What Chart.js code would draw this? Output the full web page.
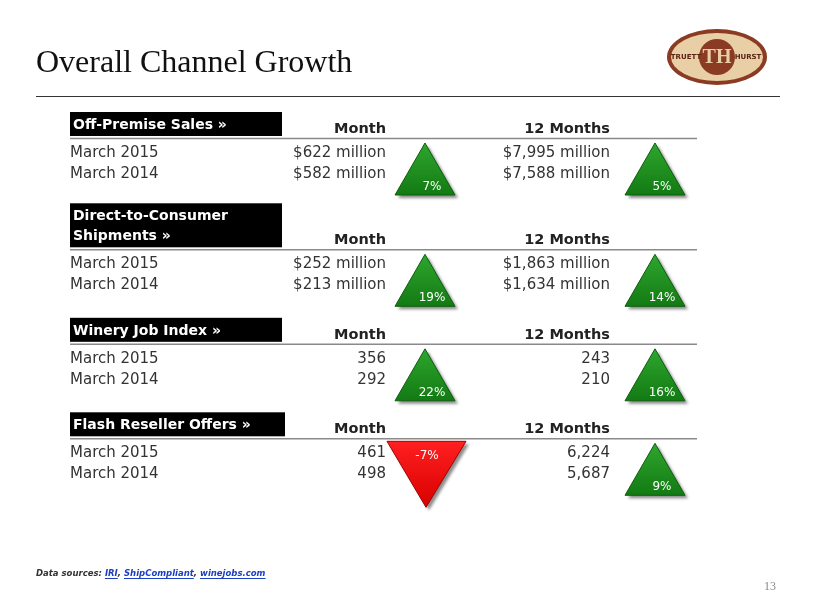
<!DOCTYPE html>
<html><head><meta charset="utf-8">
<script src="https://cdn.jsdelivr.net/npm/chart.js@4/dist/chart.umd.min.js"></script>
<style>html,body{margin:0;padding:0;background:#fff}canvas{display:block}</style>
</head><body>
<canvas id="c" width="820" height="615"></canvas>
<script>
const sections = ['Off-Premise Sales »', 'Direct-to-Consumer\nShipments »', 'Winery Job Index »', 'Flash Reseller Offers »'];
const headerLines = [1, 2, 1, 1];
const columns = ['Month', '12 Months'];
const periods = ['March 2015', 'March 2014'];
const isMoney = [true, true, false, false];
const monthCurrent = [622, 252, 356, 461];
const monthPrior = [582, 213, 292, 498];
const yearCurrent = [7995, 1863, 243, 6224];
const yearPrior = [7588, 1634, 210, 5687];
const monthChange = [7, 19, 22, -7];
const yearChange = [5, 14, 16, 9];

const sectionY = [];
let acc = 0;
sections.forEach((s, i) => { acc += (headerLines[i] - 1) * 0.8; sectionY.push(i * 4.5 + acc); });

function fmt(v, money) {
  const s = v.toLocaleString('en-US');
  return money ? '$' + s + ' million' : s;
}

const pts = [];
sections.forEach((s, i) => {
  pts.push({x: 0, y: sectionY[i], v: monthChange[i], s: i});
  pts.push({x: 1, y: sectionY[i], v: yearChange[i], s: i});
});

const F = 'DejaVu Sans, Verdana, sans-serif';

const slide = {
  id: 'slide',
  afterDatasetsDraw(chart) {
    const ctx = chart.ctx;
    const meta = chart.getDatasetMeta(0);
    ctx.save();
    ctx.fillStyle = '#111';
    ctx.font = '32px "Liberation Serif", serif';
    ctx.textBaseline = 'alphabetic';
    ctx.textAlign = 'left';
    ctx.fillText('Overall Channel Growth', 36, 72);
    ctx.strokeStyle = '#333'; ctx.lineWidth = 1;
    ctx.beginPath(); ctx.moveTo(36, 96.5); ctx.lineTo(780, 96.5); ctx.stroke();
    ctx.save();
    ctx.translate(717, 57);
    ctx.fillStyle = '#8a3b22';
    ctx.beginPath(); ctx.ellipse(0, 0, 50, 28, 0, 0, Math.PI * 2); ctx.fill();
    ctx.fillStyle = '#e9cfa6';
    ctx.beginPath(); ctx.ellipse(0, 0, 46, 24, 0, 0, Math.PI * 2); ctx.fill();
    ctx.fillStyle = '#8a3b22';
    ctx.beginPath(); ctx.arc(0, 0, 18, 0, Math.PI * 2); ctx.fill();
    ctx.fillStyle = '#e9cfa6';
    ctx.font = 'bold 20px "Liberation Serif", serif'; ctx.textAlign = 'center'; ctx.textBaseline = 'middle';
    ctx.fillText('TH', 0, 1);
    ctx.fillStyle = '#5a2414'; ctx.font = 'bold 7px ' + F;
    ctx.fillText('TRUETT', -31, 0); ctx.fillText('HURST', 31, 0);
    ctx.restore();

    const xs = chart.scales.x, ys = chart.scales.y;
    sections.forEach((name, i) => {
      const a = ys.getPixelForValue(sectionY[i]);
      const xm = xs.getPixelForValue(0), xy = xs.getPixelForValue(1);
      const lines = name.split('\n');
      const bh = 24 + (lines.length - 1) * 20;
      ctx.fillStyle = '#000';
      ctx.fillRect(70, a - 26 - (lines.length - 1) * 20, i === 3 ? 215 : 212, bh);
      ctx.fillStyle = '#fff'; ctx.font = 'bold 14px ' + F; ctx.textAlign = 'left'; ctx.textBaseline = 'alphabetic';
      lines.forEach((l, k) => ctx.fillText(l, 73, a - 9 - (lines.length - 1 - k) * 20));
      ctx.fillStyle = '#222'; ctx.font = 'bold 14.5px ' + F; ctx.textAlign = 'right';
      ctx.fillText(columns[0], xm - 39, a - 5);
      ctx.fillText(columns[1], xy - 45, a - 5);
      ctx.strokeStyle = '#8a8a8a'; ctx.lineWidth = 1.5;
      ctx.beginPath(); ctx.moveTo(70, a + 0.5); ctx.lineTo(697, a + 0.5); ctx.stroke();
      ctx.font = '15px ' + F; ctx.fillStyle = '#333';
      const vals = [[monthCurrent[i], yearCurrent[i]], [monthPrior[i], yearPrior[i]]];
      periods.forEach((p, r) => {
        const yy = a + 19 + r * 21;
        ctx.textAlign = 'left'; ctx.fillText(p, 70, yy);
        ctx.textAlign = 'right';
        ctx.fillText(fmt(vals[r][0], isMoney[i]), xm - 39, yy);
        ctx.fillText(fmt(vals[r][1], isMoney[i]), xy - 45, yy);
      });
    });

    meta.data.forEach((el, j) => {
      const p = pts[j];
      const cx = el.x, a = el.y;
      ctx.save();
      ctx.shadowColor = 'rgba(0,0,0,0.45)'; ctx.shadowOffsetX = 3; ctx.shadowOffsetY = 3; ctx.shadowBlur = 3;
      ctx.beginPath();
      let ty;
      if (p.v >= 0) {
        ctx.moveTo(cx, a + 5); ctx.lineTo(cx + 30, a + 57); ctx.lineTo(cx - 30, a + 57); ctx.closePath();
        const g = ctx.createLinearGradient(cx, a + 5, cx, a + 57);
        g.addColorStop(0, '#2ea62e'); g.addColorStop(1, '#137a13');
        ctx.fillStyle = g; ty = a + 49;
      } else {
        ctx.moveTo(cx - 38, a + 3); ctx.lineTo(cx + 41, a + 3); ctx.lineTo(cx + 1, a + 69); ctx.closePath();
        const g = ctx.createLinearGradient(cx, a + 3, cx, a + 69);
        g.addColorStop(0, '#ff2020'); g.addColorStop(1, '#d80000');
        ctx.fillStyle = g; ty = a + 18;
      }
      ctx.fill();
      ctx.restore();
      ctx.strokeStyle = p.v >= 0 ? '#0d5e0d' : '#a00000'; ctx.lineWidth = 1; ctx.stroke();
      ctx.fillStyle = '#fff'; ctx.font = '12px ' + F; ctx.textAlign = 'center'; ctx.textBaseline = 'middle';
      ctx.fillText(p.v + '%', cx + (p.v >= 0 ? 7 : 2), ty);
    });

    ctx.textBaseline = 'alphabetic'; ctx.textAlign = 'left';
    ctx.font = 'italic bold 8.5px ' + F;
    let x = 36; const fy = 576;
    const parts = [['Data sources: ', '#333', false], ['IRI', '#1a3fc0', true], [', ', '#333', false],
      ['ShipCompliant', '#1a3fc0', true], [', ', '#333', false], ['winejobs.com', '#1a3fc0', true]];
    parts.forEach(([t, c, u]) => {
      ctx.fillStyle = c;
      const w = ctx.measureText(t).width;
      ctx.fillText(t, x, fy);
      if (u) { ctx.fillRect(x, fy + 2, w, 1); }
      x += w;
    });
    ctx.fillStyle = '#888'; ctx.font = '12px "Liberation Serif", serif'; ctx.textAlign = 'right';
    ctx.fillText('13', 776, 590);
    ctx.restore();
  }
};

new Chart(document.getElementById('c'), {
  type: 'scatter',
  data: { datasets: [{ data: pts, pointRadius: 0, pointHoverRadius: 0 }] },
  options: {
    responsive: false, animation: false,
    layout: { padding: { left: 425, right: 165, top: 138, bottom: 57 } },
    plugins: { legend: { display: false }, tooltip: { enabled: false } },
    scales: {
      x: { type: 'linear', min: 0, max: 1, display: false },
      y: { type: 'linear', min: 0, max: 20, reverse: true, display: false }
    }
  },
  plugins: [slide]
});
</script>
</body></html>
